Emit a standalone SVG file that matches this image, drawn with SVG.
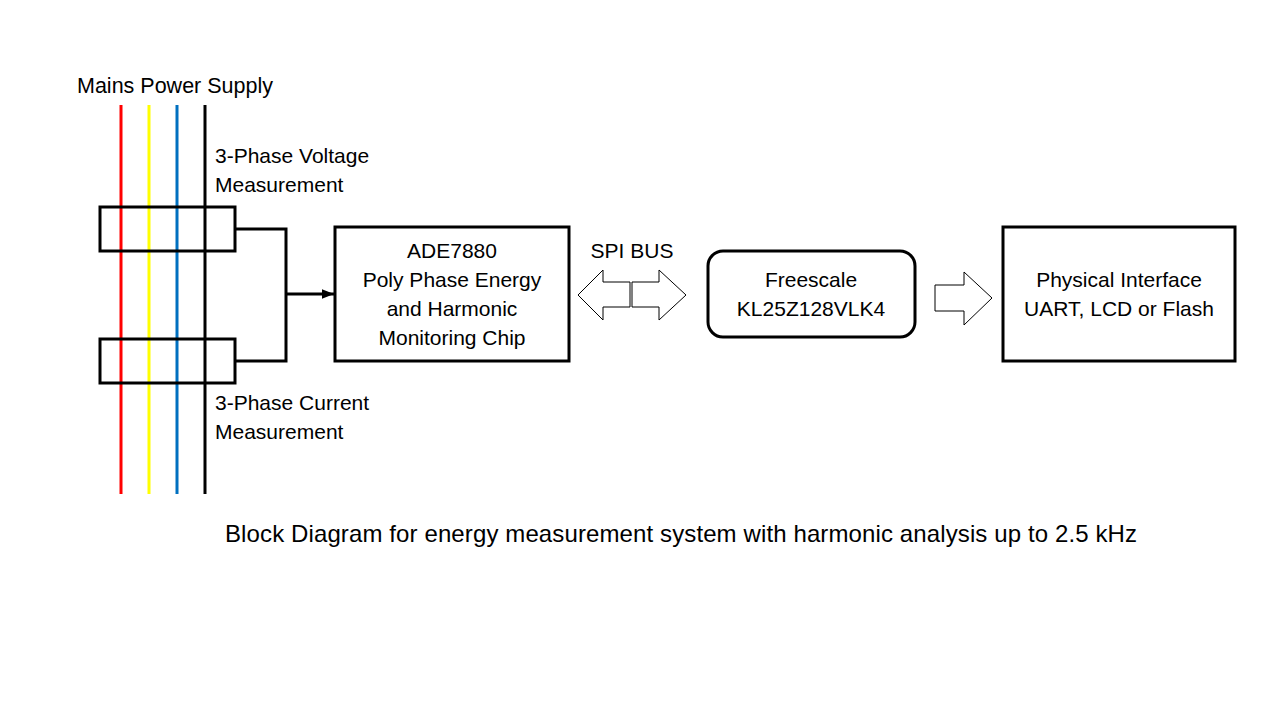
<svg xmlns="http://www.w3.org/2000/svg" width="1280" height="720" viewBox="0 0 1280 720">
<style>
text{font-family:"Liberation Sans",Arial,sans-serif;font-size:21px;fill:#000}
.c{text-anchor:middle}
.cap{font-size:24px}
.box{fill:#fff;stroke:#000;stroke-width:3}
.ph{stroke-width:3;fill:none}
.blk{fill:#fff;stroke:#000;stroke-width:1}
.wire{fill:none;stroke:#000;stroke-width:3}
</style>
<defs>
<marker id="ah" viewBox="0 0 10 10" refX="10" refY="5" markerWidth="4" markerHeight="4" orient="auto" markerUnits="strokeWidth"><path d="M0,1 L10,5 L0,9 z" fill="#000"/></marker>
</defs>
<rect width="1280" height="720" fill="#fff"/>
<text x="77" y="93" style="font-size:21.5px">Mains Power Supply</text>
<g id="phases">
<line class="ph" x1="121" y1="105" x2="121" y2="494" stroke="#ff0000"/>
<line class="ph" x1="149" y1="105" x2="149" y2="494" stroke="#ffff00"/>
<line class="ph" x1="177" y1="105" x2="177" y2="494" stroke="#0070c0"/>
<line class="ph" x1="205" y1="105" x2="205" y2="494" stroke="#000"/>
</g>
<g id="voltage">
<rect x="100" y="207" width="135" height="44" fill="none" stroke="#000" stroke-width="3"/>
<text x="215" y="163">3-Phase Voltage</text>
<text x="215" y="192">Measurement</text>
</g>
<g id="current">
<rect x="100" y="339" width="135" height="44" fill="none" stroke="#000" stroke-width="3"/>
<text x="215" y="410">3-Phase Current</text>
<text x="215" y="439">Measurement</text>
</g>
<g id="connectors">
<polyline class="wire" points="235,229 286,229 286,361 235,361"/>
<line x1="286" y1="294" x2="334" y2="294" stroke="#000" stroke-width="3" marker-end="url(#ah)"/>
<path class="blk" d="M578,295 L603,270 L603,282 L630,282 L630,307 L603,307 L603,320 Z"/>
<path class="blk" d="M686,295 L659,270 L659,282 L632,282 L632,307 L659,307 L659,320 Z"/>
<path class="blk" d="M992,298 L964,272 L964,285 L935,285 L935,311 L964,311 L964,325 Z"/>
<text class="c" x="632" y="258">SPI BUS</text>
</g>
<g id="ade">
<rect class="box" x="335" y="227" width="234" height="134"/>
<text class="c" x="452" y="258">ADE7880</text>
<text class="c" x="452" y="287">Poly Phase Energy</text>
<text class="c" x="452" y="316">and Harmonic</text>
<text class="c" x="452" y="345">Monitoring Chip</text>
</g>
<g id="freescale">
<rect class="box" x="708" y="251" width="207" height="86" rx="15"/>
<text class="c" x="811" y="287">Freescale</text>
<text class="c" x="811" y="316">KL25Z128VLK4</text>
</g>
<g id="physical">
<rect class="box" x="1003" y="227" width="232" height="134"/>
<text class="c" x="1119" y="287">Physical Interface</text>
<text class="c" x="1119" y="316">UART, LCD or Flash</text>
</g>
<text class="c cap" x="681" y="542" textLength="912" lengthAdjust="spacing">Block Diagram for energy measurement system with harmonic analysis up to 2.5 kHz</text>
</svg>
